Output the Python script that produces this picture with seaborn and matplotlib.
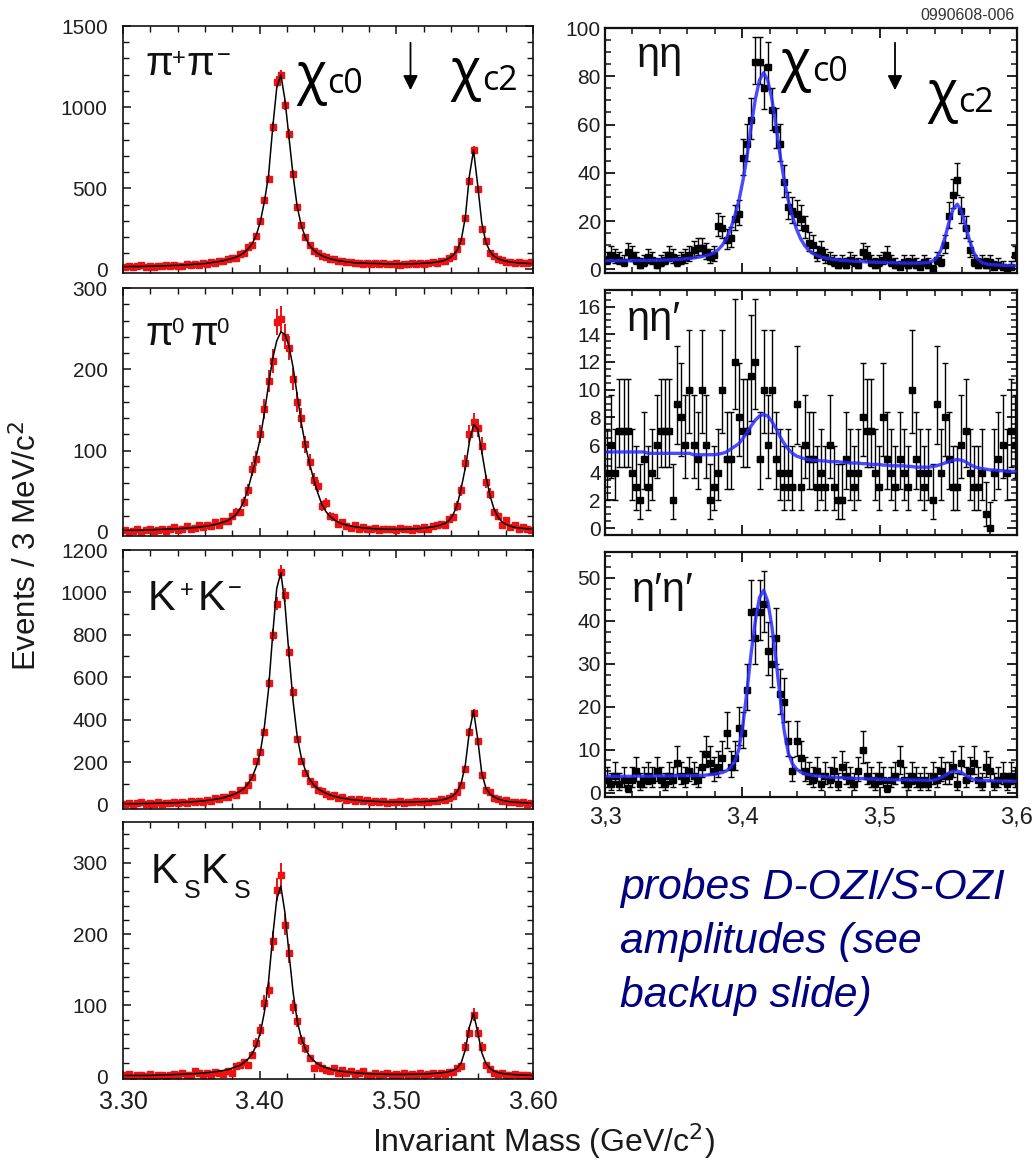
import numpy as np
import matplotlib
matplotlib.use("Agg")
import matplotlib.pyplot as plt
from matplotlib.ticker import MultipleLocator, FuncFormatter
import seaborn as sns

# ---------------- data (3 MeV bins, 3.30 - 3.60 GeV) ----------------
pipi_data = [12,22,15,20,25,14,22,18,24,20, 26,22,28,24,23,31,28,35,30,38,
             36,45,42,52,50,63,71,72,92,100, 138,152,205,300,425,560,877,1156,1195,1014,
             835,590,386,276,200,150,113,102,80,76, 62,63,50,55,44,48,38,42,36,40,
             34,40,33,37,31,36,38,30,35,33, 37,33,40,36,38,45,42,53,55,72,
             80,125,176,318,544,735,493,250,175,104, 84,62,60,48,46,40,44,42,40,48]
pipi_fit = [17,18,18,18,18,19,20,20,21,22, 23,24,25,25,27,29,30,32,33,35,
            38,42,45,49,54,60,67,75,87,103, 126,158,211,295,420,580,870,1120,1200,1045,
            810,575,385,270,195,148,119,99,85,74, 66,60,54,51,47,44,41,39,39,38,
            37,37,36,35,34,34,34,34,34,34, 35,36,37,38,40,42,45,50,57,68,
            86,118,181,323,579,735,523,289,168,111, 81,66,57,50,45,43,40,39,37,36]

pi0pi0_data = [2,0,1,3,0,2,4,1,2,3, 1,4,6,2,3,7,4,5,8,6,
               9,7,12,8,14,13,19,24,25,37, 52,77,90,120,151,186,210,258,262,240,
               226,188,160,140,108,86,64,56,32,36, 20,18,10,12,7,5,8,3,6,4,
               3,5,2,4,3,4,2,5,3,4, 2,5,3,6,4,7,8,10,9,16,
               18,32,51,85,120,135,128,106,62,47, 24,20,8,15,6,8,3,6,4,2]
pi0pi0_fit = [2,2,2,2,2.2,2.4,2.6,2.8,3,3.2, 3.4,3.6,3.8,4,4.3,4.6,5,5.4,6,6.6,
              7.3,8.2,9.2,10.5,12,14,17,21,28,38, 53,72,93,116,147,181,213,235,246,243,
              228,202,168,134,106,84,65,48,34,25, 19,15,12,10,8.5,7.3,6.4,5.7,5.1,4.6,
              4.2,3.9,3.6,3.4,3.3,3.2,3.2,3.2,3.3,3.4, 3.6,3.9,4.3,4.8,5.5,6.2,7.2,8.6,10.5,14,
              21,33,54,79,111,132,127,99,69,45, 28,18,12,9,7,5.8,5,4.4,4,3.6]

kk_data = [4,10,2,8,12,3,9,6,14,5, 11,7,13,9,15,10,18,14,20,16,
           25,19,32,28,38,36,50,48,70,72, 96,133,205,247,344,574,801,947,1095,988,
           722,531,309,206,152,111,97,70,68,50, 44,45,32,36,25,30,20,26,17,22,
           15,20,12,18,10,16,13,18,11,15, 12,17,14,19,13,20,18,26,22,35,
           42,60,95,167,344,433,300,140,71,60, 35,30,20,22,12,15,9,13,6,10]
kk_fit = [6,6,6,6,7,7,7,8,8,9, 9,10,10,11,12,13,14,16,17,19,
          21,24,27,30,34,40,46,54,64,78, 100,130,180,250,370,545,800,1020,1094,945,
          705,485,320,222,162,121,95,77,65,55, 47,41,36,32,29,26,24,22,20,19,
          18,17,16,15,14,14,14,14,14,14, 14,15,15,16,17,18,20,23,27,33,
          43,63,103,190,348,443,312,150,80,52, 38,28,22,18,15,13,12,11,10,9]

ksks_data = [3,4,0,2,3,1,4,0,2,3, 1,3,4,2,5,3,2,8,6,3,
             5,3,7,6,4,8,6,15,16,21, 17,31,48,66,104,122,190,262,283,213,
             173,98,78,52,40,26,12,17,13,10, 8,12,6,9,5,8,4,6,8,3,
             3,5,2,4,6,3,4,2,5,3, 4,2,5,3,4,6,3,5,4,7,
             7,13,15,42,62,87,62,42,17,11, 6,4,5,3,2,4,3,2,3,1]
ksks_fit = [2,2,2,2,2,2,2,2.2,2.4,2.6, 2.8,3,3.2,3.4,3.6,3.9,4.2,4.5,4.9,5.3,
            5.8,6.4,7.2,8,9,10,12,14,16,20, 25,32,44,62,91,134,196,249,267,230,
            172,118,78,54,39,29,23,18,15,13, 11,9.8,8.6,7.7,7,6.4,5.8,5.3,4.9,4.6,
            4.3,4,3.8,3.6,3.5,3.4,3.4,3.4,3.4,3.5, 3.6,3.7,3.9,4.1,4.4,4.7,5.1,5.6,6.3,7.2,
            9,12,20,38,70,89,63,34,19,12, 8,6,4.8,4,3.5,3.1,2.8,2.6,2.4,2.2]

etaeta_data = [4,6,5,4,3,7,6,4,2,3, 5,4,2,3,4,6,5,3,4,5,
               6,8,9,9,7,5,6,18,17,12, 13,21,23,46,52,62,86,86,75,84,
               66,58,52,36,26,24,23,21,17,11, 10,6,8,5,4,3,2,3,2,4,
               3,2,7,6,3,2,3,4,6,3, 2,1,3,2,3,2,1,3,2,0,
               4,3,10,22,31,37,24,17,8,3, 2,3,2,3,1,2,1,0,1,6]
etaeta_fit = [3.6,3.6,3.6,3.6,3.6,3.6,3.6,3.7,3.7,3.7, 3.7,3.8,3.8,3.8,3.9,3.9,4.0,4.1,4.2,4.4,
              4.6,4.7,5.0,5.3,5.7,6.2,7.0,8.2,10.1,12.9, 16.8,22.2,28.5,37,47.2,59.7,70.6,78.4,81.5,78.4,
              70.6,59.7,47.2,37,28.5,22,16.6,12.6,9.8,7.8, 6.6,5.7,5.1,4.7,4.4,4.1,3.9,3.7,3.6,3.5,
              3.4,3.3,3.2,3.1,3.0,3.0,2.9,2.9,2.8,2.8, 2.7,2.7,2.6,2.6,2.6,2.6,2.6,2.7,2.9,3.4,
              4.8,7.8,13.1,19.6,25,27,24.1,18.2,11.9,7, 4.2,2.8,2.3,2.0,1.9,1.8,1.7,1.6,1.6,1.5]

etaetap_data = [4,6,4,7,7,7,4,3,2,5, 3,4,6,7,7,7,2,9,8,6,
                10,6,5,10,6,2,3,4,10,5, 5,12,8,7,7,11,12,5,10,6,
                10,5,4,3,4,3,9,3,6,5, 5,3,4,3,6,3,2,2,5,4,
                3,4,8,7,7,4,3,8,5,4, 3,5,4,3,10,5,4,3,4,2,
                9,4,8,5,3,3,6,7,4,3, 3,4,1,0,4,5,6,4,7,6]
etaetap_fit = [5.5,5.5,5.5,5.5,5.5,5.5,5.5,5.5,5.5,5.5, 5.4,5.4,5.4,5.4,5.4,5.4,5.4,5.4,5.4,5.4,
               5.4,5.3,5.3,5.3,5.3,5.3,5.3,5.35,5.4,5.5, 5.7,5.9,6.1,6.5,6.9,7.4,7.8,8.1,8.2,8.1,
               7.7,7.2,6.6,6.1,5.7,5.4,5.2,5.1,5.0,4.95, 4.9,4.9,4.85,4.85,4.8,4.8,4.8,4.75,4.75,4.7,
               4.7,4.7,4.65,4.65,4.6,4.6,4.6,4.55,4.55,4.5, 4.5,4.5,4.5,4.45,4.45,4.4,4.4,4.4,4.4,4.45,
               4.5,4.6,4.7,4.8,4.9,4.95,4.9,4.8,4.6,4.45, 4.35,4.3,4.25,4.2,4.2,4.15,4.15,4.1,4.1,4.1]

etapetap_data = [3,2,4,2,3,1,3,5,2,3, 4,3,5,3,2,4,3,7,4,3,
                 5,4,3,6,9,7,5,6,8,14, 6,8,15,14,24,42,36,42,44,33,
                 30,36,23,21,12,5,12,8,5,4, 3,5,2,4,3,5,2,6,4,3,
                 2,5,10,4,3,2,4,3,1,3, 4,7,3,2,4,3,2,3,2,4,
                 3,5,4,4,6,2,7,3,5,7, 3,2,6,5,2,3,4,2,4,3]
etapetap_fit = [3.8,3.8,3.8,3.8,3.8,3.8,3.8,3.85,3.85,3.85, 3.85,3.85,3.9,3.9,3.9,3.9,3.9,3.95,3.95,3.95,
                4.0,4.0,4.0,4.05,4.1,4.2,4.3,4.5,4.7,5.1, 5.9,7.3,10.1,16,24,32.7,40.1,45.4,47.1,44.5,
                38.7,30.9,22.2,14.4,9.2,6.7,5.5,4.8,4.4,4.2, 4.0,3.9,3.8,3.7,3.6,3.6,3.5,3.5,3.4,3.4,
                3.3,3.3,3.3,3.2,3.2,3.2,3.1,3.1,3.1,3.0, 3.0,3.0,3.0,3.0,2.95,2.95,2.95,2.9,2.9,2.9,
                3.1,3.5,4.0,4.6,5.0,5.05,4.7,4.05,3.5,3.1, 2.9,2.85,2.8,2.8,2.75,2.75,2.7,2.7,2.7,2.65]

right_labels = ["ηη", "ηη′", "η′η′"]
left_xticklabels = ["3.30", "3.40", "3.50", "3.60"]
right_xticklabels = ["3,3", "3,4", "3,5", "3,6"]
note_lines = ["probes D-OZI/S-OZI", "amplitudes (see", "backup slide)"]

for arr in [pipi_data, pipi_fit, pi0pi0_data, pi0pi0_fit, kk_data, kk_fit, ksks_data, ksks_fit,
            etaeta_data, etaeta_fit, etaetap_data, etaetap_fit, etapetap_data, etapetap_fit]:
    assert len(arr) == 100, len(arr)

# ---------------- style ----------------
sns.set_theme(style="ticks")
plt.rcParams["font.family"] = ["Liberation Sans", "DejaVu Sans"]
plt.rcParams["axes.linewidth"] = 1.1

W, H = 1035, 1163
fig = plt.figure(figsize=(W / 100, H / 100), dpi=100)
fig.patch.set_facecolor("white")

centers = 3.3015 + 0.003 * np.arange(100)
TICKC = "#1e1e1e"
TXT = "#111111"


def add_ax(x0, y0, x1, y1):
    return fig.add_axes([x0 / W, 1 - y1 / H, (x1 - x0) / W, (y1 - y0) / H])


def fxy(x, y):
    return x / W, 1 - y / H


def style_axis(ax, ymaj, ymin, ylim, right=False):
    ax.set_xlim(3.30, 3.60)
    ax.set_ylim(*ylim)
    ax.xaxis.set_major_locator(MultipleLocator(0.1))
    ax.xaxis.set_minor_locator(MultipleLocator(0.02))
    ax.yaxis.set_major_locator(MultipleLocator(ymaj))
    ax.yaxis.set_minor_locator(MultipleLocator(ymin))
    lw = 1.6 if right else 1.2
    for s in ax.spines.values():
        s.set_linewidth(lw)
        s.set_color("#111111")
    ax.tick_params(which="both", direction="in", top=True, right=True, colors="#111111",
                   labelcolor=TICKC, labelsize=15)
    if right:
        ax.tick_params(which="major", length=7, width=1.3, pad=3)
        ax.tick_params(which="minor", length=4, width=1.1)
    else:
        ax.tick_params(which="major", length=6, width=1.1, pad=11)
        ax.tick_params(which="minor", length=4, width=1.0)
    ax.tick_params(axis="x", labelbottom=False)
    ax.set_xlabel("")
    ax.set_ylabel("")
    ax.set_facecolor("white")
    ax.grid(False)


def pieces(items):
    # items: (x_px, baseline_px, text, fontsize)
    for x, y, t, fs in items:
        fig.text(*fxy(x, y), t, fontsize=fs, ha="left", va="baseline", color=TXT)


# ---------------- left column ----------------
LX0, LX1 = 123, 533
left_specs = [
    (pipi_data, pipi_fit, (26, 273), 500, 100, (-22, 1500)),
    (pi0pi0_data, pi0pi0_fit, (288, 536), 100, 20, (-5, 300)),
    (kk_data, kk_fit, (550, 809), 200, 100, (-19, 1200)),
    (ksks_data, ksks_fit, (822, 1079), 100, 20, (-3, 357)),
]
RED = "#ee1111"
left_axes = []
for d, f, (y0, y1), ymaj, ymin, ylim in left_specs:
    ax = add_ax(LX0, y0, LX1, y1)
    d = np.asarray(d, float)
    ax.errorbar(centers, d, yerr=np.sqrt(d), xerr=0.0015, fmt="s", ms=4.2, color=RED,
                ecolor=RED, elinewidth=1.4, capsize=0, zorder=2)
    sns.lineplot(x=centers, y=np.asarray(f, float), ax=ax, color="black", lw=1.1,
                 legend=False, zorder=4)
    style_axis(ax, ymaj, ymin, ylim)
    left_axes.append(ax)

left_axes[-1].tick_params(axis="x", labelbottom=True, pad=8, labelsize=18)
left_axes[-1].set_xticks([3.30, 3.40, 3.50, 3.60])
left_axes[-1].set_xticklabels(left_xticklabels)

# panel labels (base glyphs + raised / lowered small signs)
pieces([(145, 75, "π", 29), (172, 65, "+", 17), (186, 75, "π", 29), (217, 62, "−", 17)])
pieces([(145, 345, "π", 29), (171, 333, "0", 16), (190, 345, "π", 29), (216, 333, "0", 16)])
pieces([(148, 610, "K", 30), (180, 597, "+", 17), (198, 610, "K", 30), (228, 595, "−", 17)])
pieces([(151, 883, "K", 30), (184, 898, "S", 18), (201, 883, "K", 30), (234, 898, "S", 18)])

# ---------------- right column ----------------
right_specs = [
    (etaeta_data, etaeta_fit, (28, 273), 20, 5, (-1.5, 100)),
    (etaetap_data, etaetap_fit, (290, 535), 2, 0.5, (-0.5, 17.2)),
    (etapetap_data, etapetap_fit, (552, 797), 10, 2.5, (-1, 56)),
]
right_label_pos = [(637, 67), (627, 331), (632, 602)]
BLUE = "#2a2aff"
right_axes = []
for k, (d, f, (y0, y1), ymaj, ymin, ylim) in enumerate(right_specs):
    ax = add_ax(605, y0, 1017, y1)
    d = np.asarray(d, float)
    up = np.sqrt(d + 0.75) + 1.0
    lo = np.where(d > 0, np.sqrt(np.maximum(d - 0.25, 0)), 0)
    lo = np.minimum(lo, d)
    ax.errorbar(centers, d, yerr=[lo, up], xerr=0.0015, fmt="s", ms=4.0, color="black",
                ecolor="black", elinewidth=1.0, capsize=2.4, capthick=1.0, zorder=2)
    sns.lineplot(x=centers, y=np.asarray(f, float), ax=ax, color=BLUE, lw=2.4, alpha=0.85,
                 legend=False, zorder=4)
    style_axis(ax, ymaj, ymin, ylim, right=True)
    lx, ly = right_label_pos[k]
    fig.text(*fxy(lx, ly), right_labels[k], fontsize=30, ha="left", va="baseline", color=TXT)
    right_axes.append(ax)

right_axes[0].yaxis.set_major_formatter(FuncFormatter(lambda v, p: f"{v:.0f}"))
right_axes[-1].tick_params(axis="x", labelbottom=True, pad=7, labelsize=17)
right_axes[-1].set_xticks([3.3, 3.4, 3.5, 3.6])
right_axes[-1].set_xticklabels(right_xticklabels)

# ---------------- annotations ----------------
CHI_FONT = ["Open Sans", "DejaVu Sans"]
chi_labels = [
    (296, 92, 327, 93, "c0"),
    (450, 88, 482, 90, "c2"),
    (780, 79, 812, 81, "c0"),
    (927, 110, 958, 112, "c2"),
]
for cx, cy, sx, sy, sub in chi_labels:
    fig.text(*fxy(cx, cy), "χ", fontsize=40, family=CHI_FONT, ha="left", va="baseline",
             color="black")
    fig.text(*fxy(sx, sy), sub, fontsize=24.5, family=CHI_FONT, ha="left", va="baseline",
             color="black")

for ax_x in (410.5, 895):
    fig.add_artist(matplotlib.patches.FancyArrowPatch(
        fxy(ax_x, 40), fxy(ax_x, 93), transform=fig.transFigure,
        arrowstyle="-|>", mutation_scale=22, lw=1.3, color="black"))

fig.text(*fxy(1015, 20), "0990608-006", fontsize=11.5, ha="right", va="baseline",
         color="#333333")

fig.text(*fxy(27, 546), "Events / 3 MeV/c$^{2}$", rotation=90, fontsize=22.5,
         ha="center", va="center", color="#1a1a1a")
fig.text(*fxy(543, 1152), "Invariant Mass (GeV/c$^{2}$)", fontsize=23,
         ha="center", va="baseline", color="#1a1a1a")

for i, line in enumerate(note_lines):
    fig.text(*fxy(620, 899 + 54 * i), line, fontsize=30.8, style="italic",
             color="#000080", ha="left", va="baseline")

# centre the digits of non-zero y tick labels on their ticks
fig.canvas.draw()
for ax in left_axes + right_axes:
    for tick in ax.yaxis.get_major_ticks():
        if abs(tick.get_loc()) > 1e-9:
            tick.label1.set_verticalalignment("center_baseline")

fig.savefig("out.png", dpi=100, facecolor="white")
